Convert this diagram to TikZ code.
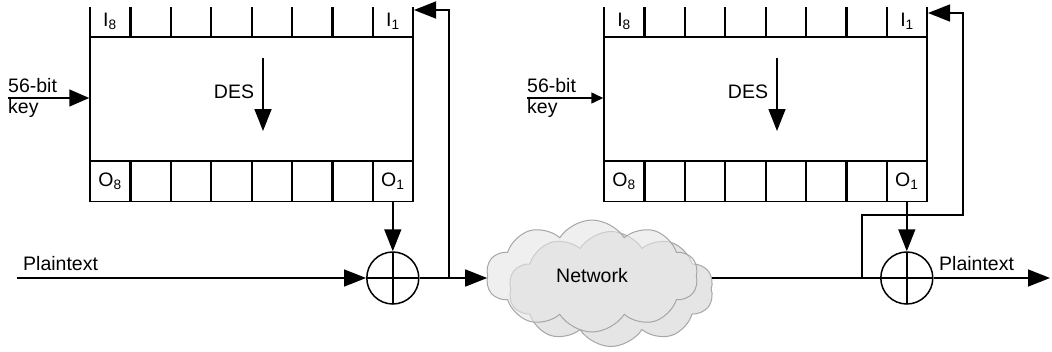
\documentclass[tikz,border=0pt]{standalone}
\usepackage{fontspec}
\setmainfont{Liberation Sans}
\usetikzlibrary{arrows.meta,shapes.symbols}

\tikzset{
  lbl/.style={font=\fontsize{19.5}{22}\selectfont, inner sep=0pt},
  reg/.style={line width=2.2pt},
  cell/.style={draw, line width=1.5pt, minimum width=40.4pt, minimum height=40pt, inner sep=0pt},
  desbox/.style={draw, line width=1.5pt, minimum width=323pt, minimum height=124pt},
  xor/.style={circle, draw, line width=1.5pt, minimum size=52pt, inner sep=0pt,
    path picture={\draw[line width=1.5pt] (path picture bounding box.north) -- (path picture bounding box.south)
      (path picture bounding box.west) -- (path picture bounding box.east);}},
  net/.style={cloud, cloud puffs=10, cloud puff arc=115, cloud ignores aspect, draw=black!35, fill=black!10, line width=1pt, lbl},
  flow/.style={line width=1.5pt, -{Triangle[length=22pt,width=17pt]}},
  keyflow/.style={line width=1.5pt, -{Triangle[length=12pt,width=11pt]}},
}

\begin{document}
\begin{tikzpicture}[x=1pt,y=-1pt]
  \useasboundingbox (0,0) rectangle (1052,351);
  % DES block with input and output registers, left = sender, right = receiver
  \foreach \s/\d in {L/0,R/514} {
    \node[desbox] (des\s) at (251.5+\d,99) {};
    \foreach \i in {0,...,8}
      \draw[reg] ({90+\d+\i*40.4},7) -- ({90+\d+\i*40.4},37);
    \foreach \i in {1,...,8}
      \node[cell] (o\s\i) at ({413+\d-20.2-(\i-1)*40.4},181.5) {};
    \foreach \i in {1,...,7}
      \draw[reg] ({90+\d+\i*40.4},161.5) -- ({90+\d+\i*40.4},201.5);
    \node[lbl] (i\s8) at (110+\d,21) {I\textsubscript{8}};
    \node[lbl] (i\s1) at (393+\d,21) {I\textsubscript{1}};
    \node[lbl] (o\s8t) at (o\s8) {O\textsubscript{8}};
    \node[lbl] (o\s1t) at (o\s1) {O\textsubscript{1}};
    \node[lbl] (des\s t) at (234+\d,92) {DES};
    \coordinate (d\s a) at (263+\d,58);
    \coordinate (d\s b) at (263+\d,131);
    \draw[flow] (d\s a) -- (d\s b);
  }

  % keys
  \node[lbl,anchor=base west] (kLa) at (8,92) {56-bit};
  \node[lbl,anchor=base west] (kLb) at (8,113) {key};
  \coordinate (kL) at (8,98);
  \draw[flow,-{Triangle[length=20pt,width=17pt]}] (kL) -- (desL.west |- kL);
  \node[lbl,anchor=base west] (kRa) at (527,92) {56-bit};
  \node[lbl,anchor=base west] (kRb) at (527,113) {key};
  \coordinate (kR) at (527,98);
  \draw[keyflow] (kR) -- (desR.west |- kR);

  % xor and network
  \node[xor] (xorL) at (392.8,278) {};
  \node[xor] (xorR) at (906.8,278) {};
  \node[net,minimum width=205pt,minimum height=115pt] (netB) at (611,289) {};
  \node[net,fill opacity=0.6,text opacity=1,minimum width=212pt,minimum height=112pt] (net) at (592,276) {Network};

  \coordinate (ptL) at (17,278);
  \node[lbl,anchor=base west] (ptLt) at (23,270) {Plaintext};
  \draw[flow] (ptL) -- (xorL);
  \draw[flow] (oL1) -- (xorL);
  \draw[flow] (xorL) -- (xorL -| net.west);
  \coordinate (tapL) at (449,278);
  \coordinate (inL) at (414,10);
  \draw[flow] (tapL) |- (inL);

  \draw[line width=1.5pt] (xorR -| netB.east) -- (xorR);
  \draw[flow] (oR1) -- (xorR);
  \coordinate (ptR) at (1050,278);
  \node[lbl,anchor=base west] (ptRt) at (939,270) {Plaintext};
  \draw[flow] (xorR) -- (ptR);
  \coordinate (tapR) at (862,278);
  \coordinate (bendR) at (963,215);
  \coordinate (inR) at (928,13);
  \draw[flow] (tapR) |- (bendR) |- (inR);
\end{tikzpicture}
\end{document}
